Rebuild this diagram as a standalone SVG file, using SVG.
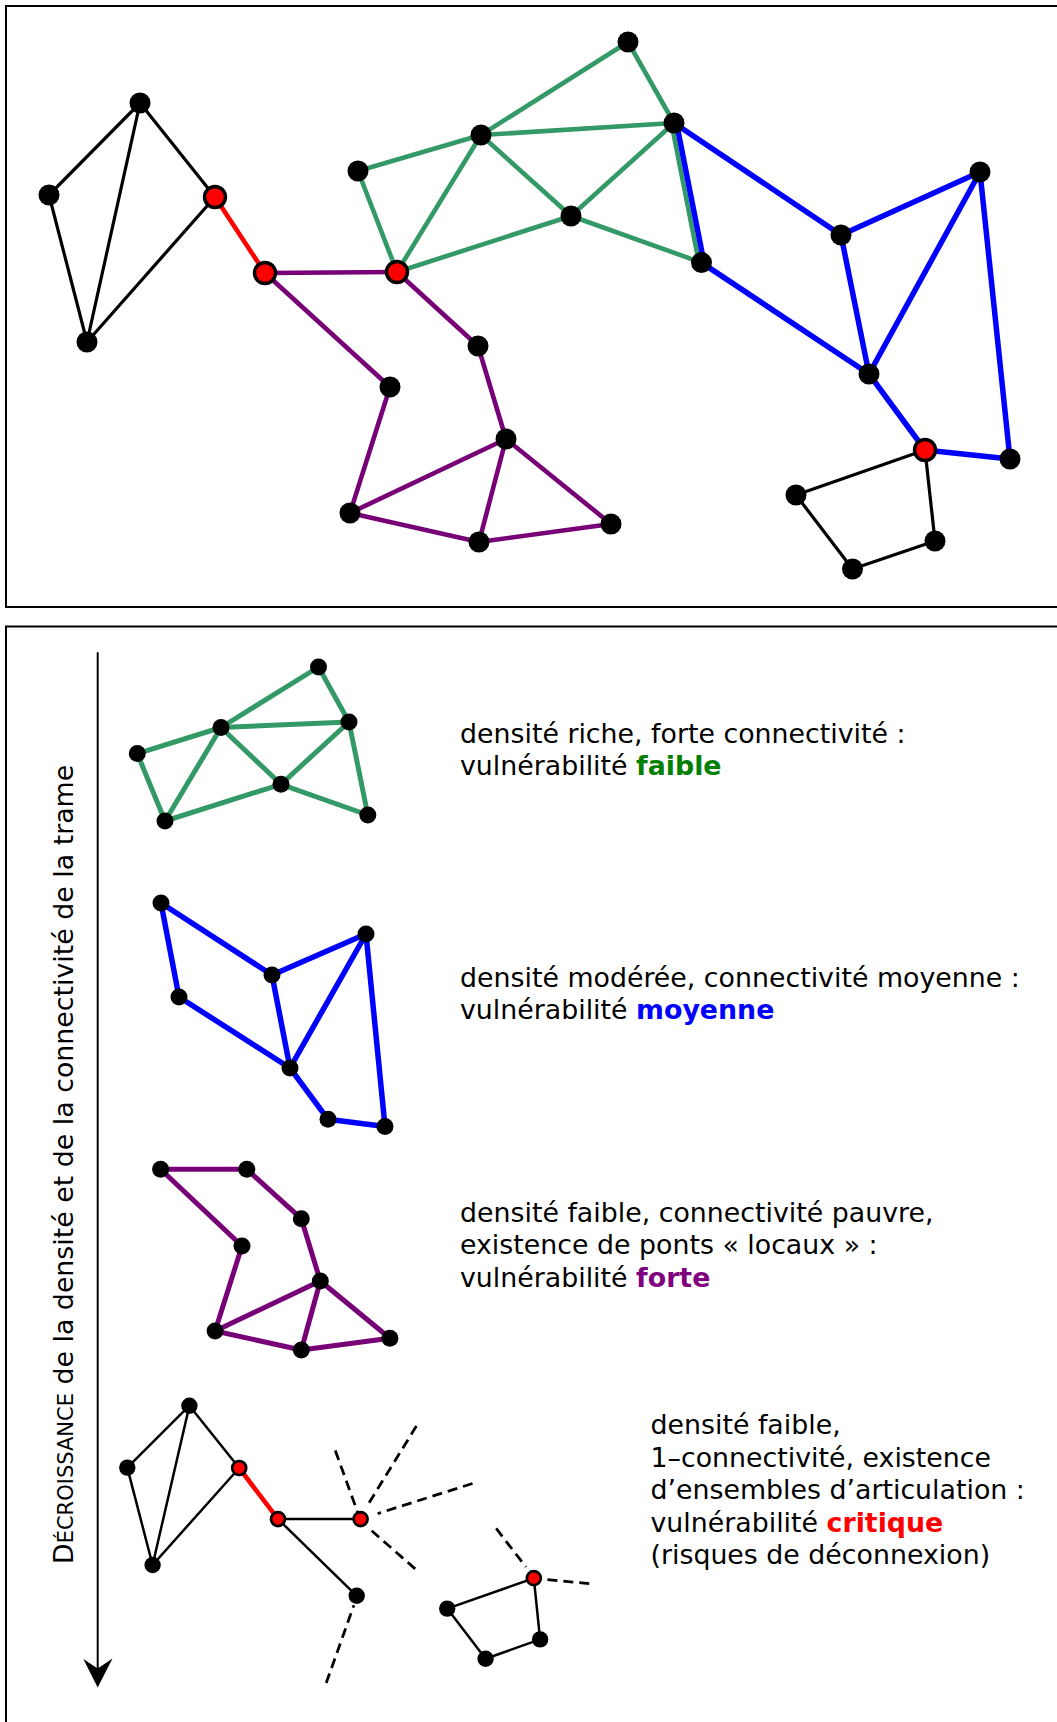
<svg xmlns="http://www.w3.org/2000/svg" width="1057" height="1722" viewBox="0 0 1057 1722">
<style>
.frame{fill:none;stroke:#000;stroke-width:2}
line{stroke-linecap:round}
.g{stroke:#339966;stroke-width:4.6}
.b{stroke:#0000ff;stroke-width:5.5}
.p{stroke:#770077;stroke-width:4.6}
.r{stroke:#ff0000;stroke-width:4.6}
.k{stroke:#000;stroke-width:3.2}
.gs{stroke:#339966;stroke-width:5}
.bs{stroke:#0000ff;stroke-width:5.5}
.ps{stroke:#770077;stroke-width:5}
.ks{stroke:#000;stroke-width:2.5}
.d{stroke:#000;stroke-width:2.8;stroke-dasharray:10 6;stroke-linecap:butt}
.n{fill:#000}
.nr{fill:#ff0000;stroke:#000;stroke-width:3.4}
.nrs{fill:#ff0000;stroke:#000;stroke-width:2.7}
text{font-family:"DejaVu Sans","Verdana",sans-serif;font-size:26.8px;fill:#000}
.bold{font-weight:bold}
</style>
<rect class="frame" x="6" y="6" width="1060" height="601"/>
<rect class="frame" x="6" y="626.5" width="1060" height="1110"/>

<g id="connectors">
<!-- top panel: black left -->
<line class="k" x1="140" y1="103" x2="49" y2="195"/>
<line class="k" x1="140" y1="103" x2="87" y2="342"/>
<line class="k" x1="140" y1="103" x2="215" y2="197"/>
<line class="k" x1="49" y1="195" x2="87" y2="342"/>
<line class="k" x1="87" y1="342" x2="215" y2="197"/>
<line class="r" x1="215" y1="197" x2="265" y2="273"/>
<!-- purple -->
<line class="p" x1="265" y1="273" x2="397" y2="272"/>
<line class="p" x1="265" y1="273" x2="390" y2="387"/>
<line class="p" x1="397" y1="272" x2="478" y2="346"/>
<line class="p" x1="478" y1="346" x2="506" y2="439"/>
<line class="p" x1="390" y1="387" x2="350" y2="513"/>
<line class="p" x1="506" y1="439" x2="350" y2="513"/>
<line class="p" x1="506" y1="439" x2="479" y2="542"/>
<line class="p" x1="506" y1="439" x2="611" y2="524"/>
<line class="p" x1="350" y1="513" x2="479" y2="542"/>
<line class="p" x1="479" y1="542" x2="611" y2="524"/>
<!-- green -->
<line class="g" x1="358" y1="171" x2="481" y2="135"/>
<line class="g" x1="358" y1="171" x2="397" y2="272"/>
<line class="g" x1="481" y1="135" x2="397" y2="272"/>
<line class="g" x1="481" y1="135" x2="628" y2="42"/>
<line class="g" x1="481" y1="135" x2="674" y2="123"/>
<line class="g" x1="481" y1="135" x2="571" y2="216"/>
<line class="g" x1="571" y1="216" x2="397" y2="272"/>
<line class="g" x1="571" y1="216" x2="674" y2="123"/>
<line class="g" x1="571" y1="216" x2="701.5" y2="262.6"/>
<line class="g" x1="628" y1="42" x2="674" y2="123"/>
<line class="g" x1="671.5" y1="123.5" x2="699" y2="263"/>
<!-- blue -->
<line class="b" x1="676.5" y1="123" x2="704" y2="262.5"/>
<line class="b" x1="674" y1="123" x2="841" y2="235"/>
<line class="b" x1="701.5" y1="262.6" x2="869" y2="374"/>
<line class="b" x1="841" y1="235" x2="980" y2="172"/>
<line class="b" x1="841" y1="235" x2="869" y2="374"/>
<line class="b" x1="980" y1="172" x2="869" y2="374"/>
<line class="b" x1="980" y1="172" x2="1010" y2="459"/>
<line class="b" x1="869" y1="374" x2="925" y2="450"/>
<line class="b" x1="925" y1="450" x2="1010" y2="459"/>
<!-- black right -->
<line class="k" x1="925" y1="450" x2="796" y2="495"/>
<line class="k" x1="925" y1="450" x2="935" y2="541"/>
<line class="k" x1="796" y1="495" x2="852.5" y2="569"/>
<line class="k" x1="852.5" y1="569" x2="935" y2="541"/>

<!-- legend arrow -->
<line x1="97.7" y1="653" x2="97.7" y2="1670" stroke="#000" stroke-width="2" stroke-linecap="butt"/>
<path d="M97.7,1687.5 L83.3,1659 L97.7,1668.5 L112.5,1658.5 Z" fill="#000"/>

<!-- legend green -->
<line class="gs" x1="318.5" y1="667" x2="349" y2="722"/>
<line class="gs" x1="318.5" y1="667" x2="221" y2="727.5"/>
<line class="gs" x1="221" y1="727.5" x2="349" y2="722"/>
<line class="gs" x1="221" y1="727.5" x2="137.3" y2="753.6"/>
<line class="gs" x1="221" y1="727.5" x2="165" y2="821"/>
<line class="gs" x1="221" y1="727.5" x2="281" y2="784.3"/>
<line class="gs" x1="349" y1="722" x2="281" y2="784.3"/>
<line class="gs" x1="349" y1="722" x2="367.8" y2="815"/>
<line class="gs" x1="137.3" y1="753.6" x2="165" y2="821"/>
<line class="gs" x1="165" y1="821" x2="281" y2="784.3"/>
<line class="gs" x1="281" y1="784.3" x2="367.8" y2="815"/>
<!-- legend blue -->
<line class="bs" x1="161" y1="903" x2="272" y2="975"/>
<line class="bs" x1="161" y1="903" x2="179" y2="997"/>
<line class="bs" x1="272" y1="975" x2="366" y2="934"/>
<line class="bs" x1="272" y1="975" x2="290" y2="1068"/>
<line class="bs" x1="366" y1="934" x2="290" y2="1068"/>
<line class="bs" x1="366" y1="934" x2="385" y2="1126.4"/>
<line class="bs" x1="179" y1="997" x2="290" y2="1068"/>
<line class="bs" x1="290" y1="1068" x2="328" y2="1119.3"/>
<line class="bs" x1="328" y1="1119.3" x2="385" y2="1126.4"/>
<!-- legend purple -->
<line class="ps" x1="160.6" y1="1169.3" x2="246.8" y2="1169.3"/>
<line class="ps" x1="160.6" y1="1169.3" x2="242" y2="1246"/>
<line class="ps" x1="246.8" y1="1169.3" x2="301.3" y2="1218.7"/>
<line class="ps" x1="301.3" y1="1218.7" x2="320.3" y2="1281"/>
<line class="ps" x1="242" y1="1246" x2="215.1" y2="1331"/>
<line class="ps" x1="320.3" y1="1281" x2="215.1" y2="1331"/>
<line class="ps" x1="320.3" y1="1281" x2="301.3" y2="1350"/>
<line class="ps" x1="320.3" y1="1281" x2="389.9" y2="1338.3"/>
<line class="ps" x1="215.1" y1="1331" x2="301.3" y2="1350"/>
<line class="ps" x1="301.3" y1="1350" x2="389.9" y2="1338.3"/>
<!-- legend black -->
<line class="ks" x1="189.4" y1="1405.7" x2="127.3" y2="1467.6"/>
<line class="ks" x1="189.4" y1="1405.7" x2="152.6" y2="1565"/>
<line class="ks" x1="189.4" y1="1405.7" x2="239.2" y2="1468"/>
<line class="ks" x1="127.3" y1="1467.6" x2="152.6" y2="1565"/>
<line class="ks" x1="152.6" y1="1565" x2="239.2" y2="1468"/>
<line class="r" x1="239.2" y1="1468" x2="278" y2="1519.1"/>
<line class="ks" x1="278" y1="1519.1" x2="360.6" y2="1519.1"/>
<line class="ks" x1="278" y1="1519.1" x2="356.7" y2="1595.8"/>
<line class="ks" x1="447.2" y1="1608.6" x2="533.8" y2="1578.2"/>
<line class="ks" x1="533.8" y1="1578.2" x2="540.1" y2="1639.4"/>
<line class="ks" x1="540.1" y1="1639.4" x2="485.6" y2="1658.7"/>
<line class="ks" x1="485.6" y1="1658.7" x2="447.2" y2="1608.6"/>
<!-- dashed -->
<line class="d" x1="335.3" y1="1450.6" x2="357.9" y2="1513"/>
<line class="d" x1="416.4" y1="1426.1" x2="367.7" y2="1505"/>
<line class="d" x1="472.5" y1="1483.5" x2="377.6" y2="1513.6"/>
<line class="d" x1="415.2" y1="1568.9" x2="371.7" y2="1530.8"/>
<line class="d" x1="326.2" y1="1683" x2="353.9" y2="1605.2"/>
<line class="d" x1="496.2" y1="1528.4" x2="525.9" y2="1567"/>
<line class="d" x1="589.2" y1="1583.7" x2="543.7" y2="1579.2"/>
</g>

<g id="top-nodes">
<g id="t1"><circle class="n" cx="140" cy="103" r="10.5"/></g>
<g id="t2"><circle class="n" cx="49" cy="195" r="10.5"/></g>
<g id="t3"><circle class="n" cx="87" cy="342" r="10.5"/></g>
<g id="t4"><circle class="nr" cx="215" cy="197" r="10.5"/></g>
<g id="t5"><circle class="nr" cx="265" cy="273" r="10.5"/></g>
<g id="t6"><circle class="nr" cx="397" cy="272" r="10.5"/></g>
<g id="t7"><circle class="n" cx="358" cy="171" r="10.5"/></g>
<g id="t8"><circle class="n" cx="481" cy="135" r="10.5"/></g>
<g id="t9"><circle class="n" cx="628" cy="42" r="10.5"/></g>
<g id="t10"><circle class="n" cx="674" cy="123" r="10.5"/></g>
<g id="t11"><circle class="n" cx="571" cy="216" r="10.5"/></g>
<g id="t12"><circle class="n" cx="701.5" cy="262.6" r="10.5"/></g>
<g id="t13"><circle class="n" cx="841" cy="235" r="10.5"/></g>
<g id="t14"><circle class="n" cx="980" cy="172" r="10.5"/></g>
<g id="t15"><circle class="n" cx="869" cy="374" r="10.5"/></g>
<g id="t16"><circle class="nr" cx="925" cy="450" r="10.5"/></g>
<g id="t17"><circle class="n" cx="1010" cy="459" r="10.5"/></g>
<g id="t18"><circle class="n" cx="796" cy="495" r="10.5"/></g>
<g id="t19"><circle class="n" cx="935" cy="541" r="10.5"/></g>
<g id="t20"><circle class="n" cx="852.5" cy="569" r="10.5"/></g>
<g id="t21"><circle class="n" cx="478" cy="346" r="10.5"/></g>
<g id="t22"><circle class="n" cx="390" cy="387" r="10.5"/></g>
<g id="t23"><circle class="n" cx="506" cy="439" r="10.5"/></g>
<g id="t24"><circle class="n" cx="350" cy="513" r="10.5"/></g>
<g id="t25"><circle class="n" cx="479" cy="542" r="10.5"/></g>
<g id="t26"><circle class="n" cx="611" cy="524" r="10.5"/></g>
</g>

<g id="legend-green">
<circle class="n" cx="318.5" cy="667" r="8.5"/>
<circle class="n" cx="349" cy="722" r="8.5"/>
<circle class="n" cx="221" cy="727.5" r="8.5"/>
<circle class="n" cx="137.3" cy="753.6" r="8.5"/>
<circle class="n" cx="281" cy="784.3" r="8.5"/>
<circle class="n" cx="165" cy="821" r="8.5"/>
<circle class="n" cx="367.8" cy="815" r="8.5"/>
</g>
<g id="legend-blue">
<circle class="n" cx="161" cy="903" r="8.5"/>
<circle class="n" cx="366" cy="934" r="8.5"/>
<circle class="n" cx="272" cy="975" r="8.5"/>
<circle class="n" cx="179" cy="997" r="8.5"/>
<circle class="n" cx="290" cy="1068" r="8.5"/>
<circle class="n" cx="328" cy="1119.3" r="8.5"/>
<circle class="n" cx="385" cy="1126.4" r="8.5"/>
</g>
<g id="legend-purple">
<circle class="n" cx="160.6" cy="1169.3" r="8.5"/>
<circle class="n" cx="246.8" cy="1169.3" r="8.5"/>
<circle class="n" cx="301.3" cy="1218.7" r="8.5"/>
<circle class="n" cx="242" cy="1246" r="8.5"/>
<circle class="n" cx="320.3" cy="1281" r="8.5"/>
<circle class="n" cx="215.1" cy="1331" r="8.5"/>
<circle class="n" cx="301.3" cy="1350" r="8.5"/>
<circle class="n" cx="389.9" cy="1338.3" r="8.5"/>
</g>
<g id="legend-critical">
<circle class="n" cx="189.4" cy="1405.7" r="8.2"/>
<circle class="n" cx="127.3" cy="1467.6" r="8.2"/>
<circle class="n" cx="152.6" cy="1565" r="8.2"/>
<circle class="nrs" cx="239.2" cy="1468" r="7"/>
<circle class="nrs" cx="278" cy="1519.1" r="7"/>
<circle class="nrs" cx="360.6" cy="1519.1" r="7"/>
<circle class="n" cx="356.7" cy="1595.8" r="8.2"/>
<circle class="n" cx="447.2" cy="1608.6" r="8.2"/>
<circle class="nrs" cx="533.8" cy="1578.2" r="7"/>
<circle class="n" cx="540.1" cy="1639.4" r="8.2"/>
<circle class="n" cx="485.6" cy="1658.7" r="8.2"/>
</g>

<g id="axis-label">
<text transform="translate(73,1564) rotate(-90)">D<tspan font-size="21">ÉCROISSANCE</tspan> de la densité et de la connectivité de la trame</text>
</g>

<g id="label-faible">
<text x="460" y="742.5">densité riche, forte connectivité :</text>
<text x="460" y="775">vulnérabilité <tspan class="bold" fill="#008000">faible</tspan></text>
</g>
<g id="label-moyenne">
<text x="460" y="986.5">densité modérée, connectivité moyenne :</text>
<text x="460" y="1019">vulnérabilité <tspan class="bold" fill="#0000ff">moyenne</tspan></text>
</g>
<g id="label-forte">
<text x="460" y="1221.5">densité faible, connectivité pauvre,</text>
<text x="460" y="1254">existence de ponts « locaux » :</text>
<text x="460" y="1286.5">vulnérabilité <tspan class="bold" fill="#800080">forte</tspan></text>
</g>
<g id="label-critique">
<text x="650.5" y="1434">densité faible,</text>
<text x="650.5" y="1466.5">1–connectivité, existence</text>
<text x="650.5" y="1499">d’ensembles d’articulation :</text>
<text x="650.5" y="1531.5">vulnérabilité <tspan class="bold" fill="#ff0000">critique</tspan></text>
<text x="650.5" y="1564">(risques de déconnexion)</text>
</g>
</svg>
